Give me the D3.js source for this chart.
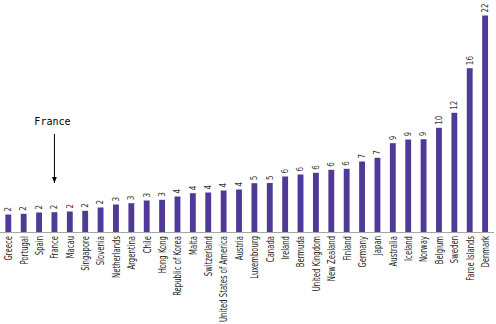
<!DOCTYPE html>
<html><head><meta charset="utf-8">
<script src="https://cdn.jsdelivr.net/npm/d3@7"></script>
<style>body{margin:0;background:#fff}</style>
</head><body>
<svg id="c" width="496" height="324"></svg>
<script>
const categories = ["Greece","Portugal","Spain","France","Macau","Singapore","Slovenia","Netherlands","Argentina","Chile","Hong Kong","Republic of Korea","Malta","Switzerland","United States of America","Austria","Luxembourg","Canada","Ireland","Bermuda","United Kingdom","New Zealand","Finland","Germany","Japan","Australia","Iceland","Norway","Belgium","Sweden","Faroe Islands","Denmark"];
const values = [1.75,1.82,1.95,1.98,2.05,2.12,2.45,2.75,2.88,3.15,3.22,3.55,3.88,3.95,4.15,4.25,4.88,4.9,5.55,5.75,5.92,6.22,6.32,7.05,7.42,8.88,9.25,9.28,10.42,11.92,16.38,21.65];
const valueLabels = ["2","2","2","2","2","2","2","3","3","3","3","4","4","4","4","4","5","5","6","6","6","6","6","7","7","9","9","9","10","12","16","22"];
const annotation = "France";

const svg = d3.select("#c");
const x = d3.scaleBand().domain(categories).range([0.6, 492.8]).paddingInner(0.62).paddingOuter(0.31);
const y = d3.scaleLinear().domain([0, 22]).range([232, 12]);
const font = "'Liberation Sans Narrow','DejaVu Sans Condensed',sans-serif";

svg.selectAll("rect.bar").data(values).join("rect")
  .attr("class","bar")
  .attr("x",(d,i)=>x(categories[i]))
  .attr("width",x.bandwidth())
  .attr("y",d=>y(d))
  .attr("height",d=>y(0)-y(d))
  .attr("fill","#4f3a98");

const xAxis = d3.axisBottom(x).tickSize(0).tickSizeOuter(0);
const gx = svg.append("g").attr("transform",`translate(0,${y(0)})`).call(xAxis);
gx.select(".domain").attr("stroke","#a6a6a6").attr("d","M0,0.5H494");
const labels = gx.selectAll("text")
  .attr("x",-4).attr("y",0).attr("dy","0.35em")
  .style("text-anchor","end")
  .style("font-family",font).style("font-size","11px").attr("fill","#222");
let maxLen = 0;
labels.each(function(){ maxLen = Math.max(maxLen, this.getComputedTextLength()); });
const sx = Math.min(1, 86 / maxLen);
labels.attr("x",-4/sx).attr("transform",`rotate(-90) scale(${sx},1)`);

svg.selectAll("text.val").data(values).join("text")
  .attr("class","val")
  .attr("transform",(d,i)=>`translate(${x(categories[i])+x.bandwidth()/2},${y(d)-3}) rotate(-90)`)
  .attr("dy","0.35em")
  .attr("text-anchor","start")
  .style("font-family",font).style("font-size","8px").attr("fill","#333")
  .text((d,i)=>valueLabels[i]);

const fx = x("France")+x.bandwidth()/2;
svg.append("defs").append("marker").attr("id","ah").attr("viewBox","0 0 10 10")
  .attr("refX",10).attr("refY",5).attr("markerWidth",6).attr("markerHeight",6).attr("orient","auto")
  .append("path").attr("d","M0,1L10,5L0,9Z").attr("fill","#000");
svg.append("line").attr("x1",fx).attr("x2",fx).attr("y1",134).attr("y2",183)
  .attr("stroke","#000").attr("stroke-width",1).attr("marker-end","url(#ah)");
svg.append("text").attr("x",fx-2).attr("y",125).attr("text-anchor","middle")
  .style("font-family","'DejaVu Sans Mono',monospace").style("font-size","10px").attr("fill","#000")
  .text(annotation);
</script>
</body></html>
